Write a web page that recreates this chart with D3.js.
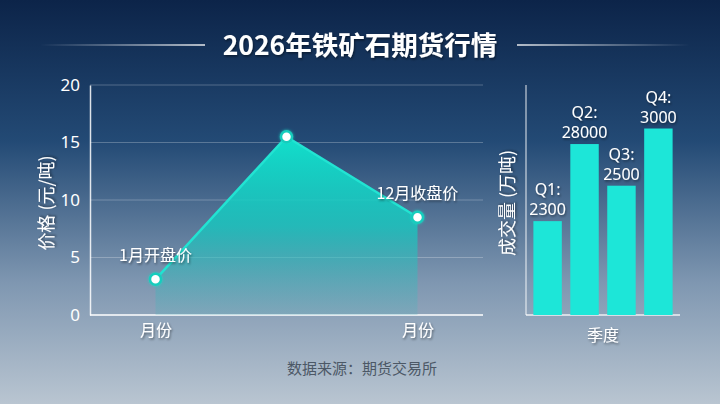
<!DOCTYPE html>
<html>
<head>
<meta charset="utf-8">
<script src="https://cdn.jsdelivr.net/npm/d3@7"></script>
<style>
  html, body { margin: 0; padding: 0; background: #0f2a50; }
  svg { display: block; font-family: "Noto Sans CJK SC", "Noto Sans", sans-serif; }
</style>
</head>
<body>
<div id="chart"></div>
<script>
(function(){

const width = 720;
const height = 404;

// price line (元/吨)
const priceCats = ["1月", "年中", "12月"];
const priceValues = [3.1, 15.5, 8.5];
const priceTickLabels = ["月份", "", "月份"];
const pricePointLabels = ["1月开盘价", "", "12月收盘价"];
const priceTicks = [0, 5, 10, 15, 20];

// volume bars (万吨) — heights, labels as printed
const quarters = ["Q1", "Q2", "Q3", "Q4"];
const volumeHeights = [1510, 2750, 2080, 3000];
const volumeLabels = ["2300", "28000", "2500", "3000"];

const svg = d3.select("#chart")
  .append("svg")
  .attr("width", width)
  .attr("height", height)
  .attr("viewBox", `0 0 ${width} ${height}`);

const defs = svg.append("defs");

// background gradient
const bg = defs.append("linearGradient")
  .attr("id", "bg").attr("x1", 0).attr("y1", 0).attr("x2", 0).attr("y2", 1);
bg.append("stop").attr("offset", "0%").attr("stop-color", "#0c2449");
bg.append("stop").attr("offset", "35%").attr("stop-color", "#234a75");
bg.append("stop").attr("offset", "70%").attr("stop-color", "#7f97b1");
bg.append("stop").attr("offset", "100%").attr("stop-color", "#b9c5d1");

// area gradient
const areaGrad = defs.append("linearGradient")
  .attr("id", "areaGrad").attr("x1", 0).attr("y1", 0).attr("x2", 0).attr("y2", 1);
areaGrad.append("stop").attr("offset", "0%").attr("stop-color", "#12e0cc").attr("stop-opacity", 1);
areaGrad.append("stop").attr("offset", "50%").attr("stop-color", "#16c9c0").attr("stop-opacity", 0.8);
areaGrad.append("stop").attr("offset", "100%").attr("stop-color", "#45b3bb").attr("stop-opacity", 0.2);

// title side lines
const lineL = defs.append("linearGradient").attr("id", "lineL")
  .attr("gradientUnits", "userSpaceOnUse").attr("x1", 40).attr("x2", 205).attr("y1", 0).attr("y2", 0);
lineL.append("stop").attr("offset", "0%").attr("stop-color", "#fff").attr("stop-opacity", 0);
lineL.append("stop").attr("offset", "100%").attr("stop-color", "#fff").attr("stop-opacity", 0.9);
const lineR = defs.append("linearGradient").attr("id", "lineR")
  .attr("gradientUnits", "userSpaceOnUse").attr("x1", 517).attr("x2", 690).attr("y1", 0).attr("y2", 0);
lineR.append("stop").attr("offset", "0%").attr("stop-color", "#fff").attr("stop-opacity", 0.9);
lineR.append("stop").attr("offset", "100%").attr("stop-color", "#fff").attr("stop-opacity", 0);

// text shadow
const shadow = defs.append("filter").attr("id", "shadow")
  .attr("x", "-20%").attr("y", "-40%").attr("width", "140%").attr("height", "180%");
shadow.append("feDropShadow")
  .attr("dx", 1).attr("dy", 1.5).attr("stdDeviation", 1.2)
  .attr("flood-color", "#000").attr("flood-opacity", 0.45);

const glow = defs.append("filter").attr("id", "glow")
  .attr("x", "-100%").attr("y", "-100%").attr("width", "300%").attr("height", "300%");
glow.append("feDropShadow")
  .attr("dx", 0).attr("dy", 0).attr("stdDeviation", 1.5)
  .attr("flood-color", "#16dcc8").attr("flood-opacity", 0.8);

svg.append("rect")
  .attr("width", width).attr("height", height)
  .attr("fill", "url(#bg)");

// title
svg.append("line")
  .attr("x1", 40).attr("x2", 205).attr("y1", 45).attr("y2", 45)
  .attr("stroke", "url(#lineL)").attr("stroke-width", 1.5);
svg.append("line")
  .attr("x1", 517).attr("x2", 690).attr("y1", 45).attr("y2", 45)
  .attr("stroke", "url(#lineR)").attr("stroke-width", 1.5);

svg.append("text")
  .attr("x", 360)
  .attr("y", 55)
  .attr("text-anchor", "middle")
  .attr("fill", "#fff")
  .attr("filter", "url(#shadow)")
  .style("font-size", "26.5px")
  .style("font-weight", "bold")
  .text("2026年铁矿石期货行情");

// ---------- left: price line ----------
const left = {x0: 90, x1: 483, top: 85, bottom: 315};

const x = d3.scalePoint()
  .domain(priceCats)
  .range([left.x0, left.x1])
  .padding(0.5);

const y = d3.scaleLinear()
  .domain([0, 20])
  .range([left.bottom, left.top]);

// grid
svg.append("g")
  .selectAll("line")
  .data(priceTicks.filter(d => d > 0))
  .enter()
  .append("line")
  .attr("x1", left.x0).attr("x2", left.x1)
  .attr("y1", d => y(d)).attr("y2", d => y(d))
  .attr("stroke", "#ffffff")
  .attr("stroke-opacity", 0.25)
  .attr("stroke-width", 1);

// y axis
const yAxis = svg.append("g")
  .attr("transform", `translate(${left.x0},0)`)
  .call(d3.axisLeft(y).tickValues(priceTicks).tickSize(0).tickPadding(10));
yAxis.select(".domain").attr("stroke", "#fff").attr("stroke-width", 1.5).attr("stroke-opacity", 0.85);
yAxis.selectAll("text")
  .attr("fill", "#fff")
  .style("font-size", "17px")
  .style("font-family", "'Noto Sans', 'Noto Sans CJK SC', sans-serif");

// x axis
const xAxis = svg.append("g")
  .attr("transform", `translate(0,${left.bottom})`)
  .call(d3.axisBottom(x).tickSize(0).tickPadding(10)
    .tickFormat((d, i) => priceTickLabels[i]));
xAxis.select(".domain")
  .attr("d", `M${left.x0},0H${left.x1}`)
  .attr("stroke", "#fff").attr("stroke-width", 1.5);
xAxis.selectAll("text")
  .attr("fill", "#fff")
  .attr("filter", "url(#shadow)")
  .style("font-size", "16px")
  .style("font-family", "'Noto Sans CJK SC', sans-serif");

// y title
svg.append("text")
  .attr("transform", `translate(53,${(left.top + left.bottom) / 2 + 3}) rotate(-90)`)
  .attr("text-anchor", "middle")
  .attr("fill", "#fff")
  .attr("filter", "url(#shadow)")
  .style("font-size", "18px")
  .text("价格 (元/吨)");

const priceData = priceCats.map((c, i) => ({cat: c, value: priceValues[i], label: pricePointLabels[i]}));

const area = d3.area()
  .x(d => x(d.cat))
  .y0(y(0))
  .y1(d => y(d.value));

const line = d3.line()
  .x(d => x(d.cat))
  .y(d => y(d.value));

svg.append("path")
  .datum(priceData)
  .attr("fill", "url(#areaGrad)")
  .attr("d", area);

svg.append("path")
  .datum(priceData)
  .attr("fill", "none")
  .attr("stroke", "#22e3d2")
  .attr("stroke-width", 2.5)
  .attr("d", line);

svg.selectAll("circle.pt")
  .data(priceData)
  .enter()
  .append("circle")
  .attr("class", "pt")
  .attr("cx", d => x(d.cat))
  .attr("cy", d => y(d.value))
  .attr("r", 5.5)
  .attr("fill", "#fff")
  .attr("stroke", "#17cdbd")
  .attr("stroke-width", 2.5)
  .attr("filter", "url(#glow)");

svg.selectAll("text.ptlabel")
  .data(priceData.filter(d => d.label))
  .enter()
  .append("text")
  .attr("class", "ptlabel")
  .attr("x", d => x(d.cat))
  .attr("y", d => y(d.value) - 18)
  .attr("text-anchor", "middle")
  .attr("fill", "#fff")
  .attr("filter", "url(#shadow)")
  .style("font-size", "16px")
  .text(d => d.label);

// ---------- right: volume bars ----------
const right = {x0: 526, x1: 680, top: 85, bottom: 315};

const xb = d3.scaleBand()
  .domain(quarters)
  .range([right.x0, right.x1])
  .paddingInner(0.23)
  .paddingOuter(0.2);

const yb = d3.scaleLinear()
  .domain([0, 3700])
  .range([right.bottom, right.top]);

svg.append("line")
  .attr("x1", right.x0).attr("x2", right.x0)
  .attr("y1", right.top).attr("y2", right.bottom)
  .attr("stroke", "#fff").attr("stroke-opacity", 0.6).attr("stroke-width", 1.5);
svg.append("line")
  .attr("x1", right.x0).attr("x2", right.x1)
  .attr("y1", right.bottom).attr("y2", right.bottom)
  .attr("stroke", "#fff").attr("stroke-opacity", 0.85).attr("stroke-width", 1.5);

const volData = quarters.map((q, i) => ({q: q, h: volumeHeights[i], label: volumeLabels[i]}));

svg.selectAll("rect.bar")
  .data(volData)
  .enter()
  .append("rect")
  .attr("class", "bar")
  .attr("x", d => xb(d.q))
  .attr("y", d => yb(d.h))
  .attr("width", xb.bandwidth())
  .attr("height", d => yb(0) - yb(d.h))
  .attr("fill", "#1de6d8");

const barLabels = svg.selectAll("text.barlabel")
  .data(volData)
  .enter()
  .append("text")
  .attr("class", "barlabel")
  .attr("text-anchor", "middle")
  .attr("fill", "#fff")
  .attr("filter", "url(#shadow)")
  .style("font-size", "16px")
  .style("font-family", "'Noto Sans', 'Noto Sans CJK SC', sans-serif");
barLabels.append("tspan")
  .attr("x", d => xb(d.q) + xb.bandwidth() / 2)
  .attr("y", d => yb(d.h) - 26)
  .text(d => d.q + ":");
barLabels.append("tspan")
  .attr("x", d => xb(d.q) + xb.bandwidth() / 2)
  .attr("y", d => yb(d.h) - 6)
  .text(d => d.label);

svg.append("text")
  .attr("transform", `translate(514,${(right.top + right.bottom) / 2 + 3}) rotate(-90)`)
  .attr("text-anchor", "middle")
  .attr("fill", "#fff")
  .attr("filter", "url(#shadow)")
  .style("font-size", "18px")
  .text("成交量 (万吨)");

svg.append("text")
  .attr("x", (right.x0 + right.x1) / 2)
  .attr("y", 341)
  .attr("text-anchor", "middle")
  .attr("fill", "#fff")
  .attr("filter", "url(#shadow)")
  .style("font-size", "16px")
  .text("季度");

// source
svg.append("text")
  .attr("x", 362)
  .attr("y", 374)
  .attr("text-anchor", "middle")
  .attr("fill", "#4c5866")
  .style("font-size", "15px")
  .text("数据来源：期货交易所");

})();
</script>
</body>
</html>
